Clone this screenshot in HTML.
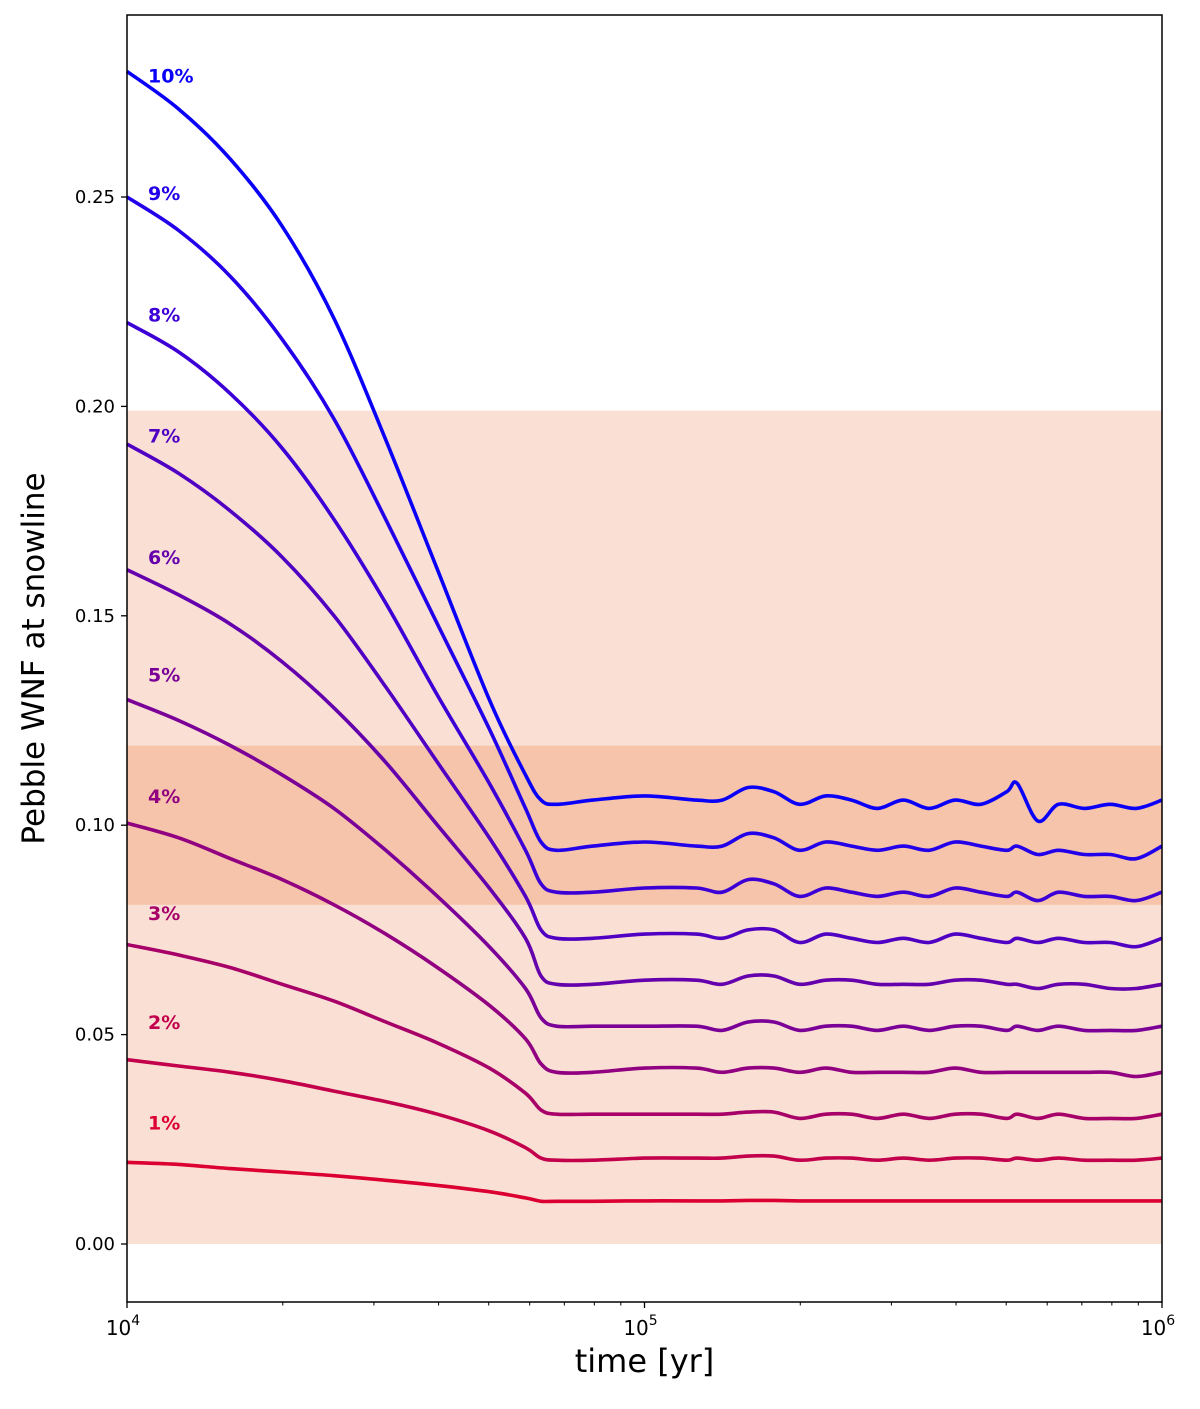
<!DOCTYPE html>
<html><head><meta charset="utf-8"><style>
body{margin:0;background:#fff}
svg text{font-family:"DejaVu Sans","Liberation Sans",sans-serif}
</style></head><body>
<svg id="chart" width="1200" height="1404" xmlns="http://www.w3.org/2000/svg">
<g id="bands"></g><g id="lines"></g><g id="labels"></g><g id="axes"></g>
</svg>
<script>
const logTimes=[4.0,4.1,4.2,4.3,4.4,4.5,4.6,4.7,4.77,4.80,4.83,4.9,5.0,5.1,5.15,5.2,5.25,5.3,5.35,5.4,5.45,5.5,5.55,5.6,5.65,5.7,5.72,5.76,5.8,5.85,5.9,5.95,6.0];
const seriesNames=["1%","2%","3%","4%","5%","6%","7%","8%","9%","10%"];
const s1=[0.0195,0.019,0.018,0.0172,0.0163,0.0152,0.014,0.0125,0.011,0.0102,0.0102,0.0102,0.0103,0.0103,0.0103,0.0104,0.0104,0.0103,0.0103,0.0103,0.0103,0.0103,0.0103,0.0103,0.0103,0.0103,0.0103,0.0103,0.0103,0.0103,0.0103,0.0103,0.0103];
const s2=[0.044,0.0425,0.041,0.039,0.0365,0.034,0.031,0.027,0.023,0.0205,0.020,0.020,0.0205,0.0205,0.0205,0.021,0.021,0.020,0.0205,0.0205,0.020,0.0205,0.020,0.0205,0.0205,0.020,0.0205,0.020,0.0205,0.020,0.020,0.020,0.0205];
const s3=[0.0715,0.069,0.066,0.062,0.058,0.053,0.048,0.042,0.036,0.032,0.031,0.031,0.031,0.031,0.031,0.0315,0.0315,0.030,0.031,0.031,0.030,0.031,0.030,0.031,0.031,0.030,0.031,0.030,0.031,0.030,0.030,0.030,0.031];
const s4=[0.1005,0.097,0.092,0.087,0.081,0.074,0.066,0.057,0.049,0.043,0.041,0.041,0.042,0.042,0.041,0.042,0.042,0.041,0.042,0.041,0.041,0.041,0.041,0.042,0.041,0.041,0.041,0.041,0.041,0.041,0.041,0.040,0.041];
const s5=[0.130,0.125,0.119,0.112,0.104,0.094,0.083,0.071,0.061,0.054,0.052,0.052,0.052,0.052,0.051,0.053,0.053,0.051,0.052,0.052,0.051,0.052,0.051,0.052,0.052,0.051,0.052,0.051,0.052,0.051,0.051,0.051,0.052];
const s6=[0.161,0.155,0.148,0.139,0.128,0.115,0.100,0.085,0.073,0.064,0.062,0.062,0.063,0.063,0.062,0.064,0.064,0.062,0.063,0.063,0.062,0.062,0.062,0.063,0.063,0.062,0.062,0.061,0.062,0.062,0.061,0.061,0.062];
const s7=[0.191,0.184,0.175,0.164,0.150,0.133,0.115,0.097,0.083,0.075,0.073,0.073,0.074,0.074,0.073,0.075,0.075,0.072,0.074,0.073,0.072,0.073,0.072,0.074,0.073,0.072,0.073,0.072,0.073,0.072,0.072,0.071,0.073];
const s8=[0.220,0.213,0.203,0.190,0.173,0.153,0.131,0.110,0.094,0.086,0.084,0.084,0.085,0.085,0.084,0.087,0.086,0.083,0.085,0.084,0.083,0.084,0.083,0.085,0.084,0.083,0.084,0.082,0.084,0.083,0.083,0.082,0.084];
const s9=[0.250,0.242,0.231,0.216,0.197,0.173,0.148,0.123,0.104,0.096,0.094,0.095,0.096,0.095,0.095,0.098,0.097,0.094,0.096,0.095,0.094,0.095,0.094,0.096,0.095,0.094,0.095,0.093,0.094,0.093,0.093,0.092,0.095];
const s10=[0.280,0.271,0.259,0.243,0.221,0.192,0.161,0.130,0.112,0.106,0.105,0.106,0.107,0.106,0.106,0.109,0.108,0.105,0.107,0.106,0.104,0.106,0.104,0.106,0.105,0.108,0.110,0.101,0.105,0.104,0.105,0.104,0.106];
const labelValues=[0.029,0.053,0.079,0.107,0.136,0.164,0.193,0.222,0.251,0.279];
const colors=["#dc0032","#c3004b","#a70068","#900080","#7a0097","#6500ad","#5000c2","#3c00d6","#2200ea","#0a00f8"];
const yTicks=[0,0.05,0.10,0.15,0.20,0.25];
const yTickLabels=["0.00","0.05","0.10","0.15","0.20","0.25"];
const xDecades=[4,5,6];
const bandLight=[0,0.199];
const bandDark=[0.081,0.119];
const series=[s1,s2,s3,s4,s5,s6,s7,s8,s9,s10];

const L=127,R=1162,T=15,B=1302;
const X=lt=>L+(lt-4)/2*(R-L);
const Y=v=>1244-v*(1244-197)/0.25;
const NS="http://www.w3.org/2000/svg";
function mk(tag,parent,attrs){const e=document.createElementNS(NS,tag);for(const k in attrs)e.setAttribute(k,attrs[k]);parent.appendChild(e);return e;}
function smooth(pts){
  let d='M'+pts[0][0].toFixed(1)+','+pts[0][1].toFixed(1);
  for(let i=0;i<pts.length-1;i++){
    const p0=pts[Math.max(i-1,0)],p1=pts[i],p2=pts[i+1],p3=pts[Math.min(i+2,pts.length-1)];
    const c1=[p1[0]+(p2[0]-p0[0])/6,p1[1]+(p2[1]-p0[1])/6];
    const c2=[p2[0]-(p3[0]-p1[0])/6,p2[1]-(p3[1]-p1[1])/6];
    d+='C'+c1[0].toFixed(1)+','+c1[1].toFixed(1)+' '+c2[0].toFixed(1)+','+c2[1].toFixed(1)+' '+p2[0].toFixed(1)+','+p2[1].toFixed(1);
  }
  return d;
}
const gB=document.getElementById('bands'),gL=document.getElementById('lines'),gT=document.getElementById('labels'),gA=document.getElementById('axes');

let r=mk('rect',gB,{x:L,y:Y(bandLight[1]),width:R-L,height:Y(bandLight[0])-Y(bandLight[1]),fill:'#fae0d4'});


r=mk('rect',gB,{x:L,y:Y(bandDark[1]),width:R-L,height:Y(bandDark[0])-Y(bandDark[1]),fill:'#f6c4aa'});



series.forEach((s,i)=>{
  const pts=s.map((v,j)=>[X(logTimes[j]),Y(v)]);
  const p=mk('path',gL,{d:smooth(pts),fill:'none',stroke:colors[i],'stroke-width':3.6,'stroke-linejoin':'round'});
  
  
  const t=mk('text',gT,{x:148,y:Y(labelValues[i])+7,fill:colors[i],'font-size':19,'font-weight':'bold'});
  t.textContent=seriesNames[i];
  
  
});

const fr=mk('rect',gA,{x:L,y:T,width:R-L,height:B-T,fill:'none',stroke:'#000','stroke-width':1.5});


yTicks.forEach((v,i)=>{
  mk('line',gA,{x1:L-6,x2:L,y1:Y(v),y2:Y(v),stroke:'#000','stroke-width':1.3});
  const t=mk('text',gA,{x:L-12,y:Y(v)+6,'text-anchor':'end','font-size':18});
  t.textContent=yTickLabels[i];
  
  
});
xDecades.forEach(d=>{
  mk('line',gA,{x1:X(d),x2:X(d),y1:B,y2:B+6,stroke:'#000','stroke-width':1.3});
  const t=mk('text',gA,{x:X(d)-4,y:B+33,'text-anchor':'middle','font-size':20});
  t.innerHTML='10<tspan font-size="14" dy="-10">'+d+'</tspan>';
  
  
  if(d<6){for(let m=2;m<10;m++){const x=X(d+Math.log10(m));mk('line',gA,{x1:x,x2:x,y1:B,y2:B+3.5,stroke:'#000','stroke-width':1});}}
});
let t=mk('text',gA,{x:(L+R)/2,y:1372,'text-anchor':'middle','font-size':32});
t.textContent='time [yr]';


t=mk('text',gA,{x:44,y:(T+B)/2,'text-anchor':'middle','font-size':31,transform:'rotate(-90 44 '+((T+B)/2)+')'});
t.textContent='Pebble WNF at snowline';


</script>
</body></html>
